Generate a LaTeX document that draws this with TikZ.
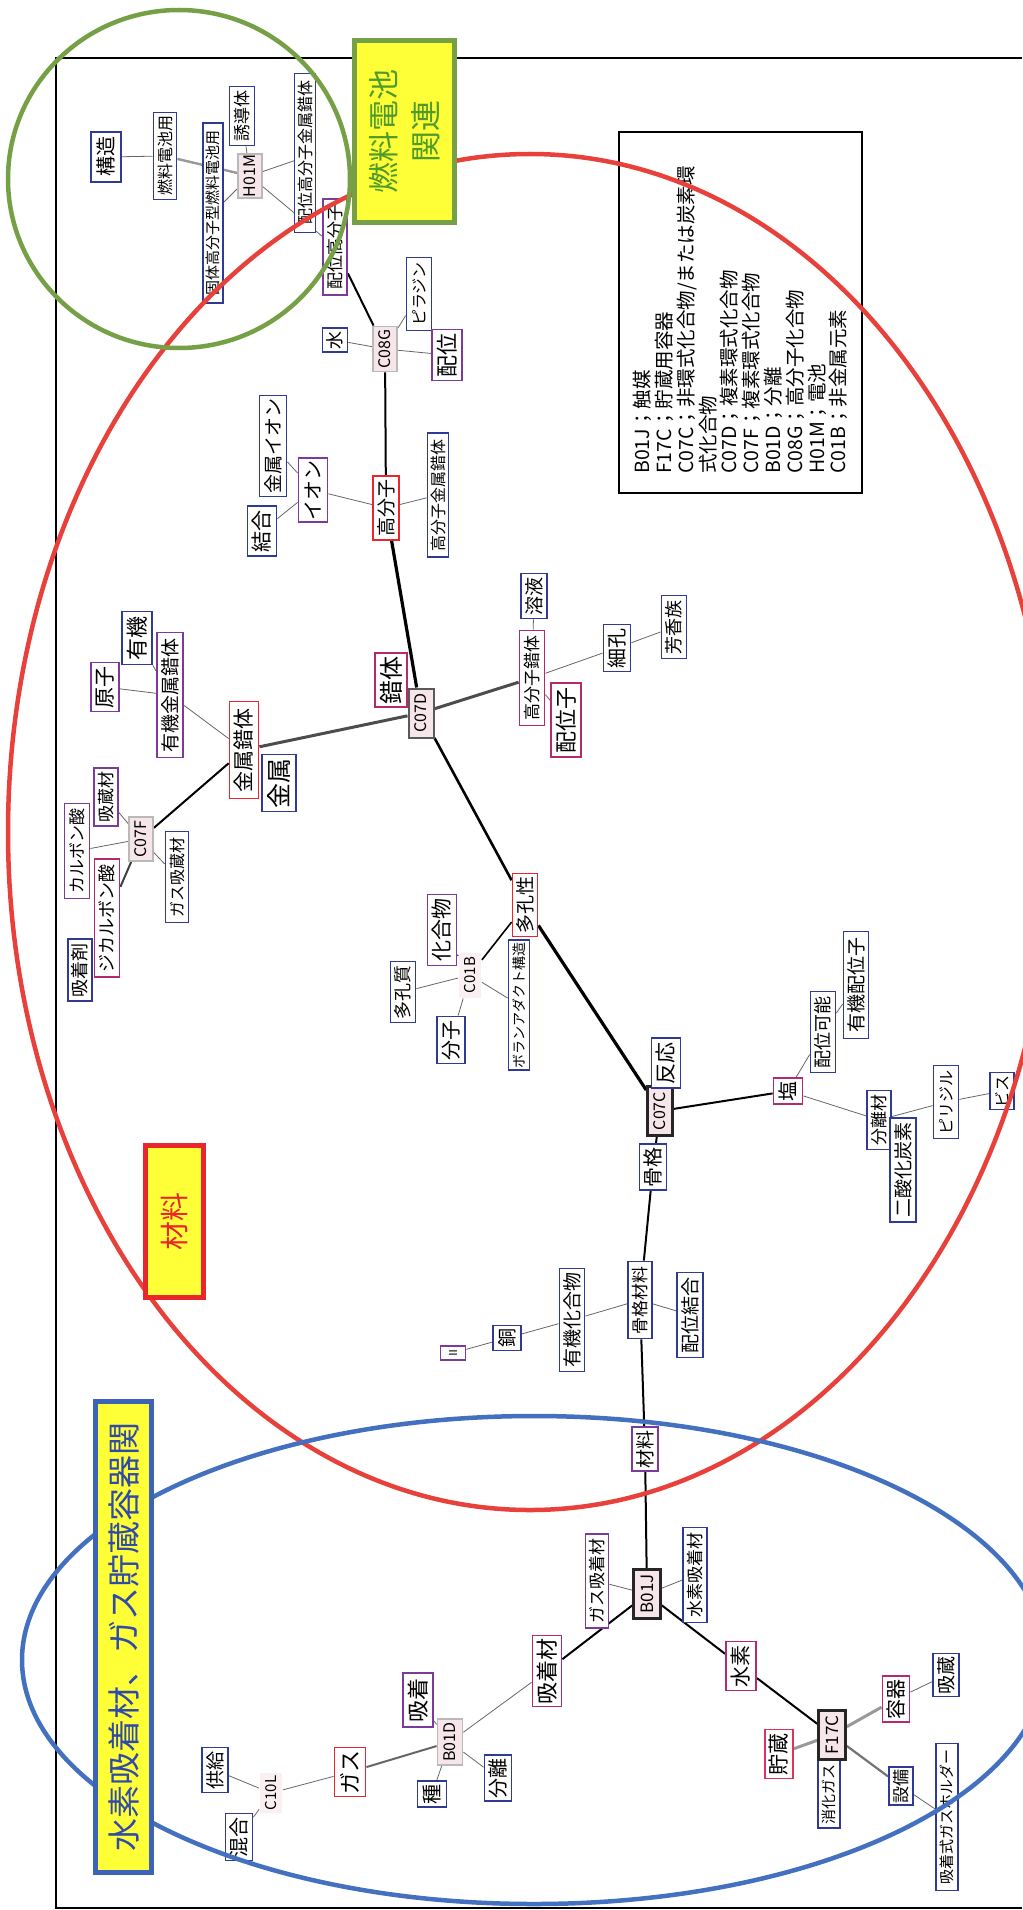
\documentclass[tikz,border=0pt]{standalone}
\usepackage{fontspec}
\setmainfont{Noto Sans CJK JP}
\usetikzlibrary{backgrounds}
\newcommand\myfs[1]{\fontsize{#1pt}{#1pt}\selectfont}
\definecolor{cb}{HTML}{2E3A94}
\definecolor{cp}{HTML}{7B3A9C}
\definecolor{cc}{HTML}{B5296E}
\definecolor{cr}{HTML}{E8262B}
\definecolor{cz}{HTML}{E0305C}
\definecolor{codefill}{HTML}{F7E6E9}
\definecolor{eRed}{HTML}{E8403A}
\definecolor{eBlue}{HTML}{4470C0}
\definecolor{eGreen}{HTML}{76A046}
\definecolor{lblY}{HTML}{FFFF38}
\definecolor{lblGreenText}{HTML}{4E9A2A}
\definecolor{lblBlueText}{HTML}{2F4AA8}
\definecolor{lblBlueBorder}{HTML}{3D63B8}
\begin{document}
\begin{tikzpicture}[x=1pt,y=-1pt,
 box/.style={rotate=90, draw, fill=white, line width=1.8pt, inner sep=1pt, align=center},
 nb/.style={box, draw=cb}, np/.style={box, draw=cp}, nc/.style={box, draw=cc},
 nr/.style={box, draw=cr}, nz/.style={box, draw=cz},
 code/.style={box, draw=gray!55, fill=codefill},
 coded/.style={box, draw=black!65, fill=codefill, line width=2pt},
 codek/.style={box, draw=black!85, fill=codefill, line width=2.6pt},
 codep/.style={box, draw=none, fill=codefill!60},
 sz/.style 2 args={minimum width=#1pt, minimum height=#2pt},
 ft/.style={font=\myfs{#1}},
 eT/.style={draw=black!60, line width=0.8pt},
 eM/.style={draw=black, line width=2pt},
 eK/.style={draw=black, line width=3.2pt},
 eG/.style={draw=black!40, line width=3pt},
 eD/.style={draw=black!70, line width=3pt},
]
\useasboundingbox (0,0) rectangle (1022,1910);

% ---------- nodes ----------
\node[nb,sz={50}{30},ft=20] (kozo) at (106,157) {構造};
\node[nb,sz={87}{23},ft=16] (nenryo) at (165,156) {燃料電池用};
\node[nb,sz={180}{20},ft=15] (kotai) at (213,213) {固体高分子型燃料電池用};
\node[nb,sz={59}{25},ft=17] (yudo) at (242,116) {誘導体};
\node[code,sz={44}{24},ft=16] (h01m) at (250,176) {H01M};
\node[nb,sz={159}{21},ft=16] (haikoukin) at (305,153) {配位高分子金属錯体};
\node[np,sz={96}{24},ft=17] (haikou) at (335,247) {配位高分子};
\node[nb,sz={73}{25},ft=16] (piraji) at (419,294) {ピラジン};
\node[nb,sz={24}{25},ft=18] (mizu) at (335,340) {水};
\node[code,sz={45}{24},ft=16] (c08g) at (385,349) {C08G};
\node[np,sz={51}{30},ft=22] (haii) at (447,355) {配位};
\node[nr,sz={64}{26},ft=19] (koubun) at (386,508) {高分子};
\node[nb,sz={124}{21},ft=16] (koukin) at (438,495) {高分子金属錯体};
\node[np,sz={64}{29},ft=20] (ion) at (313,490) {イオン};
\node[nb,sz={101}{27},ft=19] (kinion) at (273,446) {金属イオン};
\node[nb,sz={50}{29},ft=21] (ketsu) at (262,531) {結合};
\node[nc,sz={54}{32},ft=24] (sakutai) at (391,680) {錯体};
\node[coded,sz={49}{25},ft=16] (c07d) at (421,713) {C07D};
\node[nr,sz={97}{29},ft=21] (kinsaku) at (244,750) {金属錯体};
\node[nb,sz={57}{34},ft=25] (kinzoku) at (279,783) {金属};
\node[np,sz={125}{26},ft=19] (yukikin) at (170,695) {有機金属錯体};
\node[nb,sz={53}{30},ft=22] (yuki) at (137,638) {有機};
\node[np,sz={49}{28},ft=21] (genshi) at (105,687) {原子};
\node[code,sz={44}{24},ft=16] (c07f) at (141,839) {C07F};
\node[np,sz={58}{24},ft=17] (kyuzo) at (106,797) {吸蔵材};
\node[np,sz={95}{25},ft=17] (karubon) at (77,851) {カルボン酸};
\node[nc,sz={118}{25},ft=18] (jikarubon) at (107,918) {ジカルボン酸};
\node[nb,sz={91}{23},ft=16] (gaskyuzo) at (177,877) {ガス吸蔵材};
\node[nb,sz={62}{24},ft=18] (kyuchakuzai) at (80,970) {吸着剤};
\node[nc,sz={95}{25},ft=17] (koubunsaku) at (532,678) {高分子錯体};
\node[nc,sz={74}{30},ft=22] (haiishi) at (566,720) {配位子};
\node[nb,sz={47}{27},ft=20] (saikou) at (617,648) {細孔};
\node[nb,sz={63}{25},ft=18] (houkou) at (674,627) {芳香族};
\node[nb,sz={45}{26},ft=19] (youeki) at (534,596) {溶液};
\node[nr,sz={63}{25},ft=19] (takousei) at (525,905) {多孔性};
\node[np,sz={71}{29},ft=21] (kagou) at (442,930) {化合物};
\node[codep,sz={45}{22},ft=15] (c01b) at (470,975) {C01B};
\node[nb,sz={61}{25},ft=18] (takoushitsu) at (403,992) {多孔質};
\node[nb,sz={47}{28},ft=20] (bunshi) at (451,1040) {分子};
\node[nb,sz={130}{21},ft=14] (boran) at (519,1005) {ボランアダクト構造};
\node[codek,sz={49}{25},ft=16] (c07c) at (660,1111) {C07C};
\node[nb,sz={50}{29},ft=21] (hannou) at (666,1063) {反応};
\node[nb,sz={46}{27},ft=20] (kokkaku) at (653,1167) {骨格};
\node[nc,sz={26}{29},ft=20] (en) at (788,1091) {塩};
\node[nb,sz={81}{25},ft=18] (haiikanou) at (823,1032) {配位可能};
\node[nb,sz={107}{25},ft=19] (yukihai) at (856,985) {有機配位子};
\node[nb,sz={59}{24},ft=17] (bunrizai) at (879,1120) {分離材};
\node[nb,sz={104}{26},ft=19] (nisanka) at (903,1170) {二酸化炭素};
\node[nb,sz={73}{25},ft=16] (piriji) at (946,1102) {ピリジル};
\node[nb,sz={37}{24},ft=16] (bisu) at (1002,1091) {ビス};
\node[nb,sz={77}{24},ft=17] (kokkakuzai) at (640,1300) {骨格材料};
\node[nb,sz={103}{25},ft=19] (yukikago) at (572,1320) {有機化合物};
\node[nb,sz={85}{26},ft=19] (haiiketsu) at (690,1315) {配位結合};
\node[nb,sz={25}{28},ft=19] (dou) at (507,1338) {銅};
\node[np,sz={14}{25},ft=11] (ni) at (453,1353) {Ⅱ};
\node[np,sz={44}{26},ft=19] (zairyo) at (645,1449) {材料};
\node[codek,sz={49}{27},ft=17] (b01j) at (647,1594) {B01J};
\node[np,sz={94}{23},ft=17] (gaskyuchaku) at (597,1581) {ガス吸着材};
\node[nb,sz={95}{24},ft=17] (suisokyu) at (695,1575) {水素吸着材};
\node[nc,sz={71}{29},ft=22] (kyuchakuzai2) at (547,1671) {吸着材};
\node[nc,sz={49}{30},ft=21] (suiso) at (741,1666) {水素};
\node[nb,sz={68}{22},ft=15] (shouka) at (829,1794) {消化ガス};
\node[codek,sz={49}{27},ft=17] (f17c) at (832,1735) {F17C};
\node[nz,sz={49}{28},ft=21] (chozo) at (779,1754) {貯蔵};
\node[nc,sz={46}{27},ft=20] (youki) at (896,1699) {容器};
\node[nb,sz={43}{26},ft=19] (kyuzo2) at (946,1675) {吸蔵};
\node[nb,sz={38}{24},ft=17] (setsubi) at (901,1786) {設備};
\node[nb,sz={147}{22},ft=15] (holder) at (947,1817) {吸着式ガスホルダー};
\node[code,sz={46}{25},ft=16] (b01d) at (450,1742) {B01D};
\node[np,sz={54}{30},ft=22] (kyuchaku) at (418,1700) {吸着};
\node[nb,sz={26}{29},ft=20] (shu) at (432,1794) {種};
\node[nb,sz={46}{27},ft=20] (bunri) at (498,1778) {分離};
\node[nr,sz={49}{31},ft=22] (gasu) at (350,1772) {ガス};
\node[codep,sz={40}{22},ft=15] (c10l) at (271,1793) {C10L};
\node[nb,sz={45}{26},ft=19] (kyoukyu) at (215,1770) {供給};
\node[nb,sz={47}{27},ft=20] (kongou) at (239,1837) {混合};

% ---------- frame and edges (behind) ----------
\begin{scope}[on background layer]
\coordinate (fBL) at (56,1908);
\coordinate (fTL) at (56,58);
\coordinate (fTR) at (1022,58);
\coordinate (fBR) at (1022,1908);
\draw[line width=1.2pt] (fTR) -- (fTL) -- (fBL) -- (fBR);

\draw[eT] (kozo) -- (nenryo);
\draw[eG, line width=2.4pt] (nenryo) -- (h01m);
\draw[eT] (h01m) -- (kotai);
\draw[eT] (h01m) -- (yudo);
\draw[eT] (h01m) -- (haikoukin.south);
\draw[eT] (h01m) -- (haikou);
\draw[eM] (haikou) -- (c08g);
\draw[eT] (c08g) -- (mizu);
\draw[eT] (c08g) -- (piraji);
\draw[eT] (c08g) -- (haii);
\draw[eM] (c08g) -- (koubun);
\draw[eT] (koubun) -- (ion);
\draw[eT] (koubun) -- (koukin);
\draw[eT] (ion) -- (kinion);
\draw[eT] (ion) -- (ketsu);
\draw[eK] (koubun) -- (c07d);
\draw[eD] (c07d) -- (kinsaku);
\draw[eT] (kinsaku) -- (yukikin);
\draw[eT] (yukikin) -- (genshi);
\draw[eT] (yukikin) -- (yuki);
\draw[eM] (kinsaku) -- (c07f);
\draw[eT] (c07f) -- (kyuzo);
\draw[eT] (c07f) -- (karubon);
\draw[eM, draw=black!75] (c07f) -- (jikarubon);
\draw[eT] (c07f) -- (gaskyuzo);
\draw[eD] (c07d) -- (koubunsaku);
\draw[eT] (koubunsaku) -- (youeki);
\draw[eT] (koubunsaku) -- (saikou);
\draw[eT] (koubunsaku) -- (haiishi);
\draw[eT] (saikou) -- (houkou);
\draw[eM, line width=2.6pt] (c07d) -- (takousei);
\draw[eK] (takousei) -- (c07c);
\draw[eM, line width=1.6pt] (takousei) -- (c01b);
\draw[eT, draw=black!80, line width=1.2pt] (c01b) -- (kagou);
\draw[eT] (c01b) -- (takoushitsu);
\draw[eT] (c01b) -- (bunshi);
\draw[eT] (c01b) -- (boran);
\draw[eM] (c07c) -- (kokkaku);
\draw[eM] (c07c) -- (en);
\draw[eT] (en) -- (haiikanou);
\draw[eT] (haiikanou) -- (yukihai);
\draw[eT] (en) -- (bunrizai);
\draw[eT] (bunrizai) -- (piriji);
\draw[eT] (piriji) -- (bisu);
\draw[eM] (kokkaku) -- (kokkakuzai);
\draw[eT] (kokkakuzai) -- (yukikago);
\draw[eT] (yukikago) -- (dou);
\draw[eT] (dou) -- (ni);
\draw[eT] (kokkakuzai) -- (haiiketsu);
\draw[eM] (kokkakuzai) -- (zairyo);
\draw[eM] (zairyo) -- (b01j);
\draw[eT] (b01j) -- (gaskyuchaku);
\draw[eT] (b01j) -- (suisokyu);
\draw[eM] (b01j) -- (kyuchakuzai2);
\draw[eM] (b01j) -- (suiso);
\draw[eM] (suiso) -- (f17c);
\draw[eG] (f17c) -- (chozo);
\draw[eG] (f17c) -- (youki);
\draw[eG, draw=black!55, line width=2.2pt] (f17c) -- (setsubi);
\draw[eT] (youki) -- (kyuzo2);
\draw[eT] (setsubi) -- (holder);
\draw[eT] (kyuchakuzai2) -- (b01d);
\draw[eT] (b01d) -- (kyuchaku);
\draw[eT] (b01d) -- (shu);
\draw[eT] (b01d) -- (bunri);
\draw[eG, draw=black!60, line width=2pt] (b01d) -- (gasu);
\draw[eT] (gasu) -- (c10l);
\draw[eT] (c10l) -- (kyoukyu);
\draw[eT] (c10l) -- (kongou);
\end{scope}

% ---------- legend ----------
\coordinate (lgA) at (619,132);
\coordinate (lgB) at (862,493);
\draw[line width=1.2pt] (lgA) rectangle (lgB);
\node[rotate=90, anchor=north west, align=left, inner sep=0pt,
      font=\fontsize{19.5pt}{21.8pt}\selectfont] (legend) at (633,474)
 {B01J；触媒\\F17C；貯蔵用容器\\C07C；非環式化合物/または炭素環\\式化合物\\C07D；複素環式化合物\\C07F；複素環式化合物\\B01D；分離\\C08G；高分子化合物\\H01M；電池\\C01B；非金属元素};

% ---------- ellipses (on top of nodes) ----------
\draw[eRed, line width=4.5pt] (530,832) ellipse [x radius=522pt, y radius=678pt];
\draw[eBlue, line width=4.5pt] (534,1660) ellipse [x radius=512pt, y radius=244pt];
\draw[eGreen, line width=4.5pt] (179,179) ellipse [x radius=171pt, y radius=169pt];

% ---------- title labels ----------
\node[rotate=90, draw=eGreen, line width=5pt, fill=lblY, inner sep=0pt, align=center,
      minimum width=182pt, minimum height=100pt, text=lblGreenText,
      font=\fontsize{31pt}{42pt}\selectfont] (lblFC) at (404.5,131.5) {燃料電池\\関連};
\node[rotate=90, draw=cr, line width=5pt, fill=lblY, inner sep=0pt,
      minimum width=152pt, minimum height=58pt, text=cr,
      font=\myfs{29}] (lblMat) at (174.5,1221.5) {材料};
\node[rotate=90, draw=lblBlueBorder, line width=5pt, fill=lblY, inner sep=0pt,
      minimum width=471pt, minimum height=56pt, text=lblBlueText,
      font=\myfs{33}] (lblH2) at (123.5,1637) {水素吸着材、ガス貯蔵容器関};
\end{tikzpicture}
\end{document}
